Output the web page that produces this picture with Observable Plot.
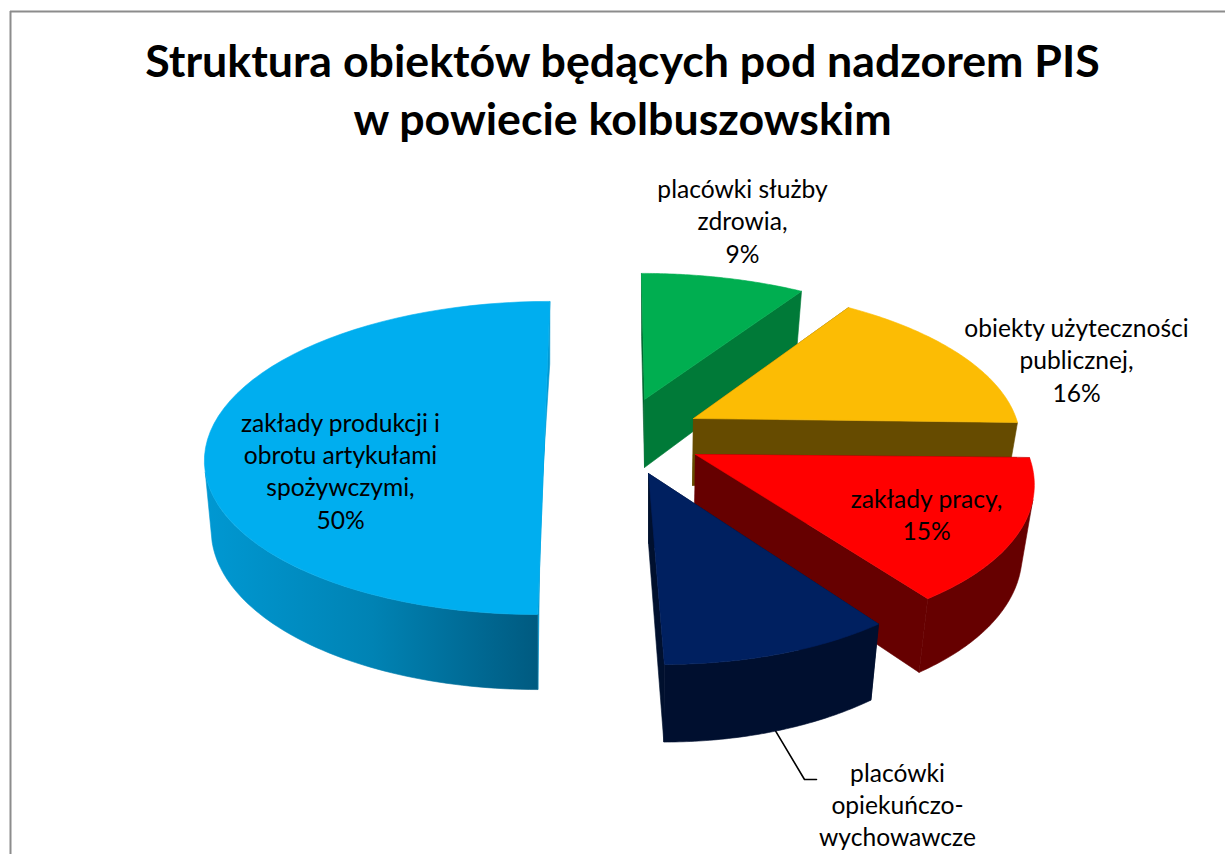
<!DOCTYPE html>
<html lang="pl">
<head>
<meta charset="utf-8">
<script src="https://cdn.jsdelivr.net/npm/d3@7"></script>
<script src="https://cdn.jsdelivr.net/npm/@observablehq/plot@0.6"></script>
<style>
html,body{margin:0;padding:0;background:#fff;overflow:hidden}
</style>
</head>
<body>
<div id="chart"></div>
<script>
// --- data, clockwise from twelve o'clock
const categories = ["placówki służby zdrowia","obiekty użyteczności publicznej","zakłady pracy","placówki opiekuńczo-wychowawcze","zakłady produkcji i obrotu artykułami spożywczymi"];
const shares = [9,16,15,10,50];
const labelTexts = ["placówki służby\nzdrowia,\n9%","obiekty użyteczności\npublicznej,\n16%","zakłady pracy,\n15%","placówki\nopiekuńczo-\nwychowawcze","zakłady produkcji i\nobrotu artykułami\nspożywczymi,\n50%"];
const titleLines = ["Struktura obiektów będących pod nadzorem PIS","w powiecie kolbuszowskim"];

// --- styling
const topColors = ["#00ae50","#fcbc04","#ff0000","#002060","#00aeef"];
const wallColors = ["#007a38","#664b00","#660000","#000f2f","url(#blueWall)"];
const frontFaceColors = ["#00622e","#664b00","#660000","#00102e","#0098d2"];
const backFaceColors = ["#007a38","#664b00","#660000","#00102e","#0098d2"];
const FONT = "Lato, 'Open Sans', sans-serif";

// --- layout of the exploded perspective pie (per slice: apex, bottom apex, radii, skew)
const geom = [
  {ax:644,ay:399,bx:644,by:467,rx:327.6,ry:141,sx:-3.4,sy:0},
  {ax:693,ay:418,bx:692,by:485,rx:324,ry:147,sx:-3.8,sy:4},
  {ax:695,ay:454,bx:694,by:522,rx:334,ry:159,sx:-17,sy:3},
  {ax:648,ay:473,bx:648,by:543,rx:334.7,ry:168.4,sx:-14,sy:0},
  {ax:544,ay:439,bx:540,by:507,ringX:544,fx:0.98,rx:337,ry:154.4,sx:6,sy:0}
];
const persp = 0.118, shrinkX = 0.967, growY = 1.04;
const deg = Math.PI/180;
const visibleWall = [105*deg,258*deg];
const labelPos = [[742,219.5],[1076,358.5],[926,513],[897,803],[340,469.5]];
const leaderElbow = [[804,779],[816,779]];
const titleY = [62,120];

const toAngle = v => v/d3.sum(shares)*2*Math.PI;
let cum = 0;
const spans = shares.map(v => { const a0 = cum; cum += toAngle(v); return [a0,cum]; });

function topPt(g,t){ const s = 1/(1+persp*Math.cos(t));
  return {x:g.ax+(g.rx*Math.sin(t)+g.sx*Math.cos(t))*s, y:g.ay+(-g.ry*Math.cos(t)+g.sy*Math.sin(t))*s}; }
function botPt(g,t){ const s = 1/(1+persp*Math.cos(t));
  return {x:(g.ringX ?? g.bx)+(g.fx ?? shrinkX)*(g.rx*Math.sin(t)+g.sx*Math.cos(t))*s, y:g.by+growY*(-g.ry*Math.cos(t)+g.sy*Math.sin(t))*s}; }
const arcOf = (f,g,[a,b]) => d3.range(0,61).map(i => f(g,a+(b-a)*i/60));

const poly = (pts,fill,strokeWidth=0.6) => Plot.line([...pts,pts[0]],{x:"x",y:"y",fill,stroke:fill,strokeWidth,curve:"linear"});

function sliceMarks(i){
  const g = geom[i], sp = spans[i];
  const apexT = {x:g.ax,y:g.ay}, apexB = {x:g.bx,y:g.by};
  const wallSpan = [Math.max(sp[0],visibleWall[0]),Math.min(sp[1],visibleWall[1])];
  const wall = wallSpan[1] > wallSpan[0]
    ? [poly([...arcOf(topPt,g,wallSpan),...arcOf(botPt,g,wallSpan).reverse()],wallColors[i])] : [];
  return [
    poly([apexT,topPt(g,sp[0]),botPt(g,sp[0]),apexB],frontFaceColors[i]),
    poly([apexT,topPt(g,sp[1]),botPt(g,sp[1]),apexB],backFaceColors[i]),
    ...wall,
    poly([apexT,...arcOf(topPt,g,sp)],topColors[i])
  ];
}

const leaderPts = [botPt(geom[3],(spans[3][0]+spans[3][1])/2),...leaderElbow.map(([x,y])=>({x,y}))];

const plot = Plot.plot({
  width:1225,height:854,margin:0,
  x:{domain:[0,1225],range:[0,1225],axis:null},
  y:{domain:[0,854],range:[0,854],axis:null},
  style:{background:"#fff",overflow:"hidden"},
  marks:[
    Plot.ruleX([10],{y1:11,y2:854,stroke:"#8c8c8c",strokeWidth:2}),
    Plot.ruleY([11],{x1:10,x2:1225,stroke:"#8c8c8c",strokeWidth:2}),
    Plot.line(leaderPts,{x:"x",y:"y",stroke:"#000",strokeWidth:1.6,curve:"linear"}),
    ...[0,1,2,3,4].flatMap(sliceMarks),
    Plot.text(titleLines,{x:()=>622,y:(d,i)=>titleY[i],text:d=>d,fontSize:44.7,fontWeight:700,fontFamily:FONT,fill:"#000"}),
    Plot.text(labelTexts,{x:(d,i)=>labelPos[i][0],y:(d,i)=>labelPos[i][1],text:d=>d,fontSize:24.6,lineHeight:1.31,fontFamily:FONT,fill:"#000"})
  ]
});
const defs = d3.select(plot).append("defs");
const grad = defs.append("linearGradient").attr("id","blueWall").attr("gradientUnits","userSpaceOnUse")
  .attr("x1",205).attr("x2",538).attr("y1",0).attr("y2",0);
grad.append("stop").attr("offset",0).attr("stop-color","#0098d2");
grad.append("stop").attr("offset",0.5).attr("stop-color","#0083b4");
grad.append("stop").attr("offset",1).attr("stop-color","#005a80");
document.getElementById("chart").append(plot);
</script>
</body>
</html>
